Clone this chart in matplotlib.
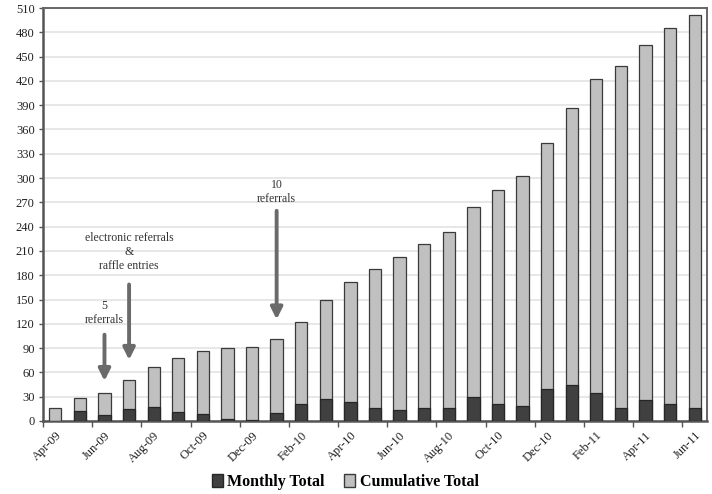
import numpy as np
import matplotlib.pyplot as plt
from matplotlib.patches import Patch

months = ["Apr-09", "May-09", "Jun-09", "Jul-09", "Aug-09", "Sep-09", "Oct-09",
          "Nov-09", "Dec-09", "Jan-10", "Feb-10", "Mar-10", "Apr-10", "May-10",
          "Jun-10", "Jul-10", "Aug-10", "Sep-10", "Oct-10", "Nov-10", "Dec-10",
          "Jan-11", "Feb-11", "Mar-11", "Apr-11", "May-11", "Jun-11"]
cumulative = [16, 28, 35, 50, 67, 78, 87, 90, 91, 101, 122, 149, 172, 188,
              202, 218, 234, 264, 285, 303, 343, 387, 422, 438, 464, 485, 501]
monthly = [0, 12, 7, 15, 17, 11, 9, 3, 1, 10, 21, 27, 23, 16,
           14, 16, 16, 30, 21, 18, 40, 44, 35, 16, 26, 21, 16]

# annotations: (bar index, text, arrow start value, arrow end value, text value)
notes = [(2, "5\nreferrals", 110, 46, 117),
         (3, "electronic referrals\n&\nraffle entries", 172, 72, 184),
         (9, "10\nreferrals", 263, 122, 267)]

plt.rcParams['font.family'] = ['Liberation Serif', 'DejaVu Serif']

fig = plt.figure(figsize=(7.12, 4.94), dpi=100)
ax = fig.add_axes([0.0604, 0.1478, 0.9326, 0.836])

x = np.arange(len(months))
w = 0.5
ax.bar(x, cumulative, width=w, color="#c0c0c0", edgecolor="#3a3a3a", linewidth=0.9, zorder=3)
ax.bar(x, monthly, width=w, color="#404040", edgecolor="#262626", linewidth=0.9, zorder=4)

ax.set_xlim(-0.5, len(months) - 0.5)
ax.set_ylim(0, 510)
ax.set_yticks(np.arange(0, 511, 30))
ax.yaxis.grid(True, color="#e3e3e3", linewidth=1.2, zorder=0)
ax.set_axisbelow(True)

ax.set_xticks(x[::2])
ax.set_xticklabels(months[::2], rotation=45, ha='right', va='top',
                   rotation_mode='anchor', fontsize=9, color="#222222")
ax.tick_params(axis='x', which='major', length=0, pad=6)
ax.set_xticks(np.arange(-0.5, len(months), 2), minor=True)
ax.tick_params(axis='x', which='minor', length=4, width=1, color="#555555")
ax.tick_params(axis='y', length=3, width=1, color="#555555", labelsize=9,
               labelcolor="#222222", pad=3)

for side in ['left', 'bottom']:
    ax.spines[side].set_linewidth(1.8)
    ax.spines[side].set_color("#555555")
for side in ['top', 'right']:
    ax.spines[side].set_linewidth(1.4)
    ax.spines[side].set_color("#666666")

for i, txt, y0, y1, yt in notes:
    ax.annotate("", xy=(i, y1), xytext=(i, y0),
                arrowprops=dict(arrowstyle="-|>,head_width=0.35,head_length=0.7",
                                color="#6a6a6a", lw=2.8), zorder=5)
    ax.text(i, yt, txt, ha='center', va='bottom', fontsize=8.5, color="#333333",
            linespacing=1.2)

handles = [Patch(facecolor="#404040", edgecolor="#262626", label="Monthly Total"),
           Patch(facecolor="#c0c0c0", edgecolor="#3a3a3a", label="Cumulative Total")]
fig.legend(handles=handles, loc='center', bbox_to_anchor=(0.485, 0.025), ncol=2,
           frameon=False, prop={'weight': 'bold', 'size': 11.5}, handlelength=0.7,
           handleheight=0.9, handletextpad=0.3, columnspacing=1.2)

fig.savefig("out.png", dpi=100)
